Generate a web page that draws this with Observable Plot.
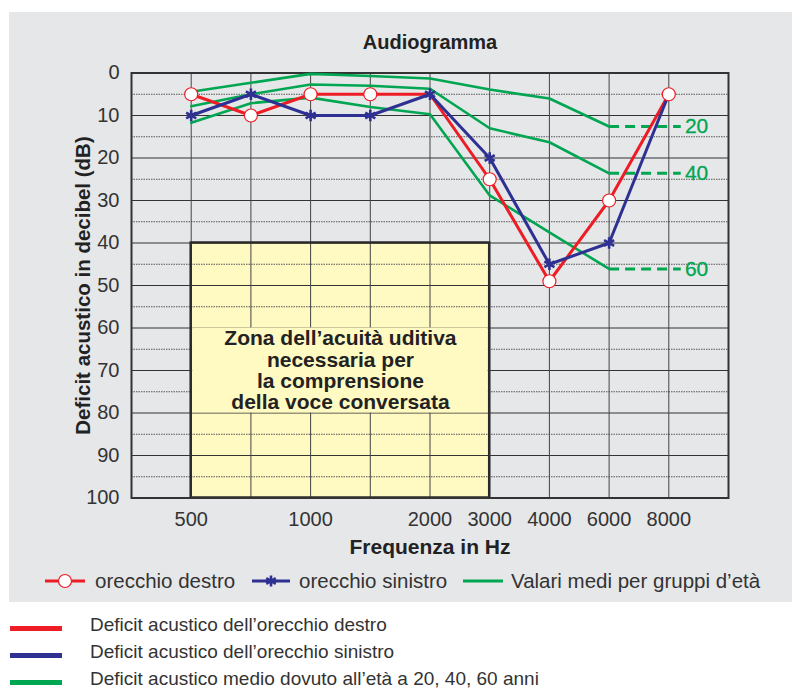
<!DOCTYPE html>
<html>
<head>
<meta charset="utf-8">
<script src="https://cdn.jsdelivr.net/npm/d3@7"></script>
<script src="https://cdn.jsdelivr.net/npm/@observablehq/plot@0.6"></script>
<style>
  body { margin: 0; background: #ffffff; font-family: "Liberation Sans", Arial, Helvetica, sans-serif; }
  #wrap { position: relative; width: 796px; height: 688px; overflow: hidden; }
  #bg { position: absolute; left: 9px; top: 12px; width: 783px; height: 590px; background: #e6e7e9; }
  #chart { position: absolute; left: 0; top: 0; }
  .item { position: absolute; display: flex; align-items: center; color: #333; white-space: nowrap; }
  .item svg { display: block; }
</style>
</head>
<body>
<div id="wrap">
  <div id="bg"></div>
  <div id="chart"></div>
  <div id="legend1"></div>
  <div id="legend2"></div>
</div>
<script>
// ---------- data ----------
const freqs = [500, 750, 1000, 1500, 2000, 3000, 4000, 6000, 8000];
const tickFreqs = [500, 1000, 2000, 3000, 4000, 6000, 8000];
const yTicks = [0, 10, 20, 30, 40, 50, 60, 70, 80, 90, 100];
const destro   = [5, 10, 5, 5, 5, 25, 49, 30, 5];
const sinistro = [10, 5, 10, 10, 5, 20, 45, 40, 5];
// age-group averages (500 ... 6000 Hz)
const eta20 = [4.4, 2.3, 0.2, 0.7, 1.3, 3.9, 6.0, 12.6];
const eta40 = [7.8, 5.0, 2.7, 3.0, 3.7, 13.0, 16.3, 23.6];
const eta60 = [11.7, 7.1, 5.8, 8.0, 9.7, 28.8, 37.5, 46.1];
const ageGroups = ["20", "40", "60"];
const zoneFreqs = [500, 3000];
const zoneDb = [40, 100];
const zoneTextDb = [60, 80];
const zoneText = "Zona dell\u2019acuità uditiva\nnecessaria per\nla comprensione\ndella voce conversata";
const titleText = "Audiogramma";
const xLabel = "Frequenza in Hz";
const yLabel = "Deficit acustico in decibel (dB)";
const legendTop = ["orecchio destro", "orecchio sinistro", "Valari medi per gruppi d\u2019età"];
const legendBottom = [
  "Deficit acustico dell\u2019orecchio destro",
  "Deficit acustico dell\u2019orecchio sinistro",
  "Deficit acustico medio dovuto all\u2019età a 20, 40, 60 anni"
];

// ---------- build ----------
const RED = "#ee1c25", BLUE = "#2e3192", GREEN = "#00a651", YELLOW = "#fff9c2";
const FONT = "'Liberation Sans', Arial, Helvetica, sans-serif";
const xi = f => freqs.indexOf(f) + 1;
const rows = (vals, series) => vals.map((v, i) => ({x: i + 1, f: freqs[i], v, series}));
const redRows = rows(destro, "destro");
const blueRows = rows(sinistro, "sinistro");
const ageArrays = [eta20, eta40, eta60];
const greenRows = ageArrays.flatMap((a, k) => rows(a, ageGroups[k]));
const dashEnd = 9.2, labelStart = 9.27;
const greenEnds = ageArrays.map((a, k) => ({series: ageGroups[k], x1: a.length, x2: dashEnd, xl: labelStart, v: a[a.length - 1]}));
const zone = [{x1: xi(zoneFreqs[0]), x2: xi(zoneFreqs[1]), y1: zoneDb[0], y2: zoneDb[1]}];
const zoneT = [{x1: xi(zoneFreqs[0]), x2: xi(zoneFreqs[1]), y1: zoneTextDb[0], y2: zoneTextDb[1]}];
const minor = d3.range(5, 100, 10);
const major = d3.range(10, 100, 10);
const vlines = freqs.map(f => xi(f));

const chart = Plot.plot({
  width: 796, height: 688,
  marginLeft: 131, marginRight: 68, marginTop: 72.5, marginBottom: 190.5,
  x: {domain: [0, 10]},
  y: {domain: [0, 100], reverse: true},
  style: {background: "transparent", fontFamily: FONT, overflow: "visible"},
  marks: [
    Plot.rect(zone, {x1: "x1", x2: "x2", y1: "y1", y2: "y2", fill: YELLOW}),
    Plot.ruleY(minor, {stroke: "#555", strokeWidth: 1, strokeDasharray: "1.5,1"}),
    Plot.ruleY(major, {stroke: "#333", strokeWidth: 1}),
    Plot.ruleX(vlines, {stroke: "#444", strokeWidth: 1}),
    Plot.rect(zoneT, {x1: "x1", x2: "x2", y1: "y1", y2: "y2", fill: YELLOW, insetLeft: 1.5, insetRight: 1.5}),
    Plot.rect(zone, {x1: "x1", x2: "x2", y1: "y1", y2: "y2", fill: "none", stroke: "#2a2a2a", strokeWidth: 2.5}),
    Plot.frame({stroke: "#333", strokeWidth: 2}),
    Plot.text([zoneText], {x: (zone[0].x1 + zone[0].x2) / 2, y: (zoneTextDb[0] + zoneTextDb[1]) / 2,
      fontSize: 21, fontWeight: "bold", fill: "#222", lineHeight: 1.02, textAnchor: "middle"}),
    Plot.axisY({ticks: yTicks, tickSize: 0, tickPadding: 12, fontSize: 20, fill: "#333", label: null}),
    Plot.axisX({ticks: tickFreqs.map(xi), tickFormat: i => String(freqs[i - 1]), tickSize: 0, tickPadding: 14, fontSize: 20, fill: "#333", label: null}),
    Plot.text([titleText], {frameAnchor: "top", lineAnchor: "middle", dy: -30, fontSize: 20, fontWeight: "bold", fill: "#222"}),
    Plot.text([xLabel], {frameAnchor: "bottom", lineAnchor: "middle", dy: 49.5, fontSize: 21, fontWeight: "bold", fill: "#222"}),
    Plot.text([yLabel], {frameAnchor: "left", lineAnchor: "middle", textAnchor: "middle", dx: -48, rotate: -90, fontSize: 20.5, fontWeight: "bold", fill: "#222"}),
    // age-group averages
    Plot.line(greenRows, {x: "x", y: "v", z: "series", stroke: GREEN, strokeWidth: 2.6}),
    Plot.link(greenEnds, {x1: "x1", x2: "x2", y1: "v", y2: "v", stroke: GREEN, strokeWidth: 3, strokeDasharray: "10,6"}),
    Plot.text(greenEnds, {x: "xl", y: "v", text: "series", fill: GREEN, fontSize: 21, fontWeight: 500, stroke: GREEN, strokeWidth: 0.3, textAnchor: "start"}),
    // ears
    Plot.line(redRows, {x: "x", y: "v", stroke: RED, strokeWidth: 3}),
    Plot.line(blueRows, {x: "x", y: "v", stroke: BLUE, strokeWidth: 3}),
    Plot.dot(redRows.filter(d => d.f !== 2000), {x: "x", y: "v", r: 6.5, fill: "white", stroke: RED, strokeWidth: 1.2}),
    Plot.dot(blueRows.filter(d => d.f !== 8000), {x: "x", y: "v", symbol: "asterisk", r: 5.5, stroke: BLUE, strokeWidth: 2.6})
  ]
});
document.getElementById("chart").appendChild(chart);

// ---------- legends ----------
function swatch(color, marker, w) {
  let m = "";
  if (marker === "circle") m = `<circle cx="${w/2}" cy="8" r="6.5" fill="white" stroke="${color}" stroke-width="1.2"/>`;
  if (marker === "star") m = [0, 60, 120].map(a => `<line x1="${w/2}" y1="2.5" x2="${w/2}" y2="13.5" stroke="${color}" stroke-width="2.6" transform="rotate(${a} ${w/2} 8)"/>`).join("");
  return `<svg width="${w}" height="16"><line x1="0" y1="8" x2="${w}" y2="8" stroke="${color}" stroke-width="3"/>${m}</svg>`;
}
const l1 = document.getElementById("legend1");
const l1pos = [{left: 45, gap: 10, w: 40, c: RED, m: "circle"}, {left: 252, gap: 9, w: 38, c: BLUE, m: "star"}, {left: 463, gap: 8, w: 40, c: GREEN, m: ""}];
legendTop.forEach((t, i) => {
  const p = l1pos[i];
  const d = document.createElement("div");
  d.className = "item";
  d.style.left = p.left + "px"; d.style.top = "569px"; d.style.height = "24px"; d.style.fontSize = "20.5px";
  d.innerHTML = swatch(p.c, p.m, p.w) + `<span style="margin-left:${p.gap}px">${t}</span>`;
  l1.appendChild(d);
});
const l2 = document.getElementById("legend2");
[RED, BLUE, GREEN].forEach((c, i) => {
  const d = document.createElement("div");
  d.className = "item";
  d.style.left = "10px"; d.style.top = (613 + i * 27) + "px"; d.style.height = "26px"; d.style.fontSize = "19px";
  d.innerHTML = `<svg width="52" height="26"><rect x="0" y="13" width="52" height="5" fill="${c}"/></svg><span style="margin-left:28px; position:relative; top:-1px">${legendBottom[i]}</span>`;
  l2.appendChild(d);
});
</script>
</body>
</html>
